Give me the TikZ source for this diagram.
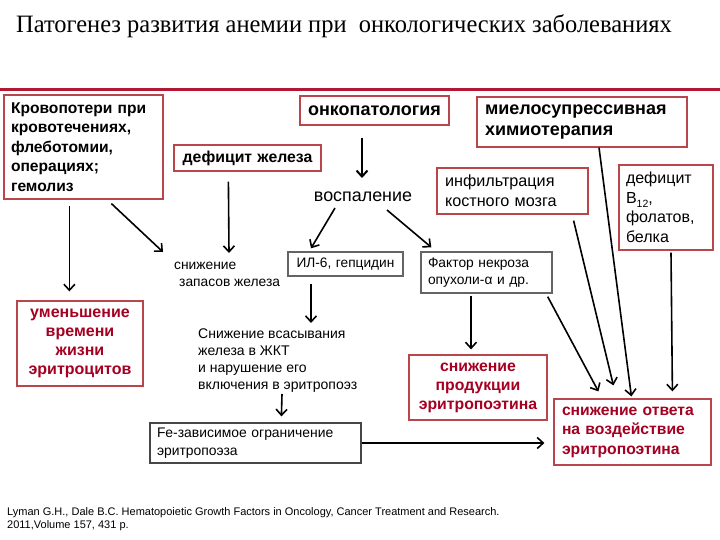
\documentclass[tikz,border=0pt]{standalone}
\usepackage{fontspec}
\setmainfont{Liberation Sans}
\newfontfamily\titlefont{Liberation Serif}
\usetikzlibrary{arrows.meta,calc}
\definecolor{linered}{RGB}{178,24,52}
\definecolor{boxred}{RGB}{185,70,75}
\definecolor{txtred}{RGB}{165,0,33}
\definecolor{boxgray}{RGB}{100,100,100}
\definecolor{boxdark}{RGB}{70,70,70}
\begin{document}
\begin{tikzpicture}[x=1pt,y=-1pt,
  arr/.style={-{Straight Barb[length=6pt,width=11pt]}, line width=1.6pt},
  rbox/.style={draw=boxred, line width=1.2pt, inner ysep=0pt},
  gbox/.style={draw=boxgray, line width=1.4pt, inner ysep=0pt},
  dbox/.style={draw=boxdark, line width=1.2pt, inner ysep=0pt},
  redtxt/.style={text=txtred}
]
\useasboundingbox[fill=white] (0,0) rectangle (720,540);

% title and rule
\node[anchor=base west, inner sep=0, font=\titlefont\fontsize{25}{30}\selectfont] (title) at (16,33) {\scalebox{0.978}[1]{Патогенез развития анемии при\ \ онкологических заболеваниях}};
\draw[linered, line width=3pt] (0,90) -- (720,90);

% boxes
\node[rbox, text width=145pt, inner xsep=7pt, minimum height=104pt, align=left, font=\bfseries\fontsize{15.6}{19.5}\selectfont] (krov) at (83.5,147) {Кровопотери при\\кровотечениях,\\флеботомии,\\операциях;\\гемолиз};
\node[rbox, text width=139pt, inner xsep=4pt, minimum height=26pt, align=center, font=\bfseries\fontsize{15.8}{17}\selectfont] (defFe) at (247.5,158) {дефицит железа};
\node[rbox, text width=141pt, inner xsep=4pt, minimum height=29pt, align=center, font=\bfseries\fontsize{18}{20}\selectfont] (onko) at (374.5,110.5) {онкопатология};
\node[rbox, text width=194pt, inner xsep=8pt, minimum height=50pt, align=left, font=\bfseries\fontsize{18}{21}\selectfont] (mielo) at (582,122) {миелосупрессивная\\химиотерапия};
\node[rbox, text width=135pt, inner xsep=8pt, minimum height=46pt, align=left, font=\fontsize{16.2}{20}\selectfont] (infil) at (512.5,191) {инфильтрация\\костного мозга};
\node[rbox, text width=80pt, inner xsep=7pt, minimum height=85pt, align=left, font=\fontsize{16}{19.5}\selectfont] (defB) at (666,207.5) {дефицит\\B\raisebox{-4pt}{\fontsize{10.5}{10.5}\selectfont 12},\\фолатов,\\белка};
\node[gbox, text width=107pt, inner xsep=4pt, minimum height=24pt, align=center, font=\fontsize{13.7}{17}\selectfont] (il6) at (345.5,264) {ИЛ-6, гепцидин};
\node[gbox, text width=117pt, inner xsep=7pt, minimum height=41pt, align=left, font=\fontsize{13.8}{17}\selectfont] (tnf) at (486.5,272.5) {Фактор некроза\\опухоли-α и др.};
\node[rbox, redtxt, text width=118pt, inner xsep=4pt, minimum height=85pt, align=center, font=\bfseries\fontsize{16}{19}\selectfont] (umen) at (80,343.5) {уменьшение\\времени\\жизни\\эритроцитов};
\node[rbox, redtxt, text width=130pt, inner xsep=4pt, minimum height=65pt, align=center, font=\bfseries\fontsize{15.8}{19}\selectfont] (epo) at (478,387.5) {снижение\\продукции\\эритропоэтина};
\node[rbox, redtxt, text width=141pt, inner xsep=8pt, minimum height=66pt, align=left, font=\bfseries\fontsize{15.7}{19.5}\selectfont] (otvet) at (632.5,432) {снижение ответа\\на воздействие\\эритропоэтина};
\node[dbox, text width=197pt, inner xsep=7pt, minimum height=40pt, align=left, font=\fontsize{13.9}{18}\selectfont] (fe) at (255.5,443) {Fe-зависимое ограничение\\эритропоэза};

% free texts
\node[inner sep=0, font=\fontsize{17.9}{20}\selectfont] (vosp) at (363,197) {воспаление};
\node[anchor=north west, inner sep=0, align=left, font=\fontsize{13.8}{17}\selectfont] (snizh) at (174,261.6) {снижение\\\hspace*{5pt}запасов железа};
\node[anchor=north west, inner sep=0, align=left, font=\fontsize{14}{17}\selectfont] (vsas) at (198,329) {Снижение всасывания\\железа в ЖКТ\\и нарушение его\\включения в эритропоэз};

% citation
\node[anchor=north west, inner sep=0, align=left, font=\fontsize{11}{13}\selectfont] (cit) at (7,507) {Lyman G.H., Dale B.C. Hematopoietic Growth Factors in Oncology, Cancer Treatment and Research.\\2011,Volume 157, 431 p.};

% connectors
\draw[arr] ($(krov.south west)+(66,6)$) -- ($(umen.north west)+(53,-9)$);
\draw[arr] ($(krov.south west)+(108,4)$) -- ($(snizh.north west)+(-11,-9.6)$);
\draw[arr] ($(defFe.south west)+(55,10)$) -- ($(snizh.north west)+(55,-8.6)$);
\draw[arr, line width=2pt] ($(onko.south)+(-12.5,12)$) -- ($(vosp.center)+(-1,-19)$);
\draw[arr] ($(vosp.center)+(-28,11)$) -- ($(il6.north)+(-34.5,-3)$);
\draw[arr] ($(vosp.center)+(24,13)$) -- ($(tnf.north west)+(11,-4)$);
\draw[arr] ($(il6.south)+(-34.5,7)$) -- ($(vsas.north west)+(113,-6)$);
\draw[arr] ($(vsas.north west)+(84,65)$) -- ($(fe.north west)+(132,-6)$);
\draw[arr, shorten >=9pt] (fe.east) -- (fe.east -| otvet.west);
\draw[arr] ($(tnf.south)+(-15.5,2)$) -- ($(epo.north)+(-7,-5)$);
\draw[arr] ($(tnf.south east)+(-5,3)$) -- ($(otvet.north west)+(45,-7)$);
\draw[arr] ($(infil.south east)+(-15,6)$) -- ($(otvet.north west)+(60,-13)$);
\draw[arr] ($(mielo.south)+(17,0)$) -- ($(otvet.north west)+(78,-2)$);
\draw[arr] ($(defB.south)+(5,2)$) -- ($(otvet.north west)+(119,-7)$);
\end{tikzpicture}
\end{document}
